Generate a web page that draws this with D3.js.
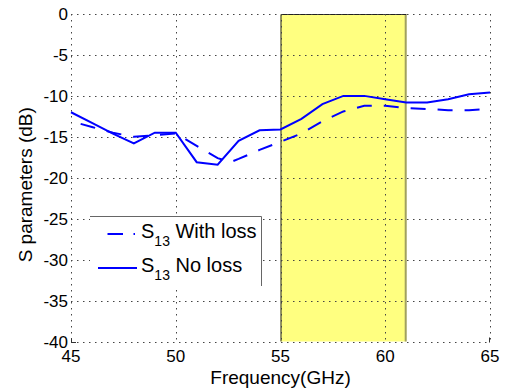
<!DOCTYPE html>
<html>
<head>
<meta charset="utf-8">
<script src="https://cdn.jsdelivr.net/npm/d3@7"></script>
<style>
  body { margin: 0; background: #fff; }
  svg { display: block; font-family: "Liberation Sans", Arial, sans-serif; }
</style>
</head>
<body>
<div id="chart"></div>
<script>
// S13 without loss, 1 GHz steps
const freqNoLoss = [45, 46, 47, 48, 49, 50, 51, 52, 53, 54, 55, 56, 57, 58, 59, 60, 61, 62, 63, 64, 65];
const s13NoLoss = [-12.0, -13.3, -14.6, -15.8, -14.5, -14.5, -18.1, -18.4, -15.5, -14.2, -14.1,
  -12.8, -11.0, -10.0, -10.0, -10.4, -10.8, -10.8, -10.4, -9.8, -9.6];

// S13 with loss
const freqWithLoss = [45, 46, 47, 48, 49, 50, 51, 52, 52.6, 53, 54, 55, 56, 57, 58, 59, 60, 61, 62, 63, 64, 65];
const s13WithLoss = [-13.1, -13.8, -14.5, -15.0, -14.8, -14.6, -16.1, -17.6, -18.1, -17.7, -16.6, -15.6,
  -14.6, -13.1, -11.9, -11.2, -11.2, -11.5, -11.6, -11.75, -11.75, -11.6];

const xTicks = [45, 50, 55, 60, 65];
const yTicks = [0, -5, -10, -15, -20, -25, -30, -35, -40];
const band = [55, 61];   // highlighted band, GHz

const seriesNames = ["With loss", "No loss"];

const width = 505, height = 392;
const margin = {top: 14, right: 15, bottom: 50.5, left: 71};

const svg = d3.select("#chart").append("svg")
  .attr("width", width)
  .attr("height", height);

const x = d3.scaleLinear().domain([45, 65]).range([margin.left, width - margin.right]);
const y = d3.scaleLinear().domain([-40, 0]).range([height - margin.bottom, margin.top]);

// yellow band
svg.append("rect")
  .attr("x", x(band[0]))
  .attr("y", y(0))
  .attr("width", x(band[1]) - x(band[0]))
  .attr("height", y(-40) - y(0))
  .attr("fill", "#ffff80");
svg.append("line")
  .attr("x1", x(band[1]) - 0.5).attr("x2", x(band[1]) - 0.5)
  .attr("y1", y(0)).attr("y2", y(-40))
  .attr("stroke", "#a0a060").attr("stroke-width", 2);
svg.append("path")
  .attr("d", `M${x(band[0]) + 0.5},${y(-40)}V${y(0) + 0.5}H${x(band[1])}`)
  .attr("fill", "none")
  .attr("stroke", "#222").attr("stroke-width", 1);

// dotted grid
const grid = svg.append("g").attr("stroke", "#444").attr("stroke-width", 1)
  .attr("stroke-dasharray", "1.5,4.5");
grid.selectAll(".vg").data(xTicks).enter().append("line")
  .attr("x1", d => Math.round(x(d)) + 0.5).attr("x2", d => Math.round(x(d)) + 0.5)
  .attr("y1", y(0)).attr("y2", y(-40));
grid.selectAll(".hg").data(yTicks).enter().append("line")
  .attr("y1", d => Math.round(y(d)) + 0.5).attr("y2", d => Math.round(y(d)) + 0.5)
  .attr("x1", x(45)).attr("x2", x(65));

// corner stubs
const y0 = Math.round(y(-40)) + 0.5;
svg.append("path")
  .attr("d", `M${x(45) + 0.5},${y0 - 4}V${y0}H${x(45) + 5}M${Math.round(x(65)) - 0.5},${y0 - 5}V${y0}`)
  .attr("fill", "none").attr("stroke", "#333");

// tick labels
svg.append("g").selectAll("text").data(xTicks).enter().append("text")
  .attr("x", d => x(d)).attr("y", 362)
  .attr("text-anchor", "middle")
  .attr("font-size", 17)
  .text(d => d);
svg.append("g").selectAll("text").data(yTicks).enter().append("text")
  .attr("x", 68).attr("y", d => y(d) + 6)
  .attr("text-anchor", "end")
  .attr("font-size", 17)
  .text(d => d);

// axis titles
svg.append("text")
  .attr("x", x(55)).attr("y", 384)
  .attr("text-anchor", "middle")
  .attr("font-size", 19)
  .text("Frequency(GHz)");
svg.append("text")
  .attr("transform", `translate(32,${(y(0) + y(-40)) / 2 + 7}) rotate(-90)`)
  .attr("text-anchor", "middle")
  .attr("font-size", 19)
  .text("S parameters (dB)");

// curves
const line = d3.line().x(d => x(d[0])).y(d => y(d[1]));
const withLoss = d3.zip(freqWithLoss, s13WithLoss);
const noLoss = d3.zip(freqNoLoss, s13NoLoss);

svg.append("path")
  .datum(withLoss)
  .attr("d", line)
  .attr("fill", "none")
  .attr("stroke", "#0000ff")
  .attr("stroke-width", 2)
  .attr("stroke-dasharray", "15,12")
  .attr("stroke-dashoffset", 17);

svg.append("path")
  .datum(noLoss)
  .attr("d", line)
  .attr("fill", "none")
  .attr("stroke", "#0000ff")
  .attr("stroke-width", 2);

// legend
const leg = svg.append("g");
leg.append("rect")
  .attr("x", 90).attr("y", 216).attr("width", 172).attr("height", 70)
  .attr("fill", "#fff");
leg.append("path")
  .attr("d", "M90,216.5H261.5V286")
  .attr("fill", "none").attr("stroke", "#666");

const legRows = [
  {name: seriesNames[0], dash: "15.5,10.5,1.5,10", y: 234},
  {name: seriesNames[1], dash: null, y: 268}
];
legRows.forEach(r => {
  const sample = leg.append("line")
    .attr("x1", r.dash ? 107.5 : 98).attr("x2", 137)
    .attr("y1", r.y).attr("y2", r.y)
    .attr("stroke", "#0000ff").attr("stroke-width", 2);
  if (r.dash) sample.attr("stroke-dasharray", r.dash);
  const t = leg.append("text")
    .attr("x", 141).attr("y", r.y + 4)
    .attr("font-size", 20);
  t.append("tspan").text("S");
  t.append("tspan").attr("font-size", 14).attr("dy", 8).text("13");
  t.append("tspan").attr("dy", -8).text(" " + r.name);
});
</script>
</body>
</html>
